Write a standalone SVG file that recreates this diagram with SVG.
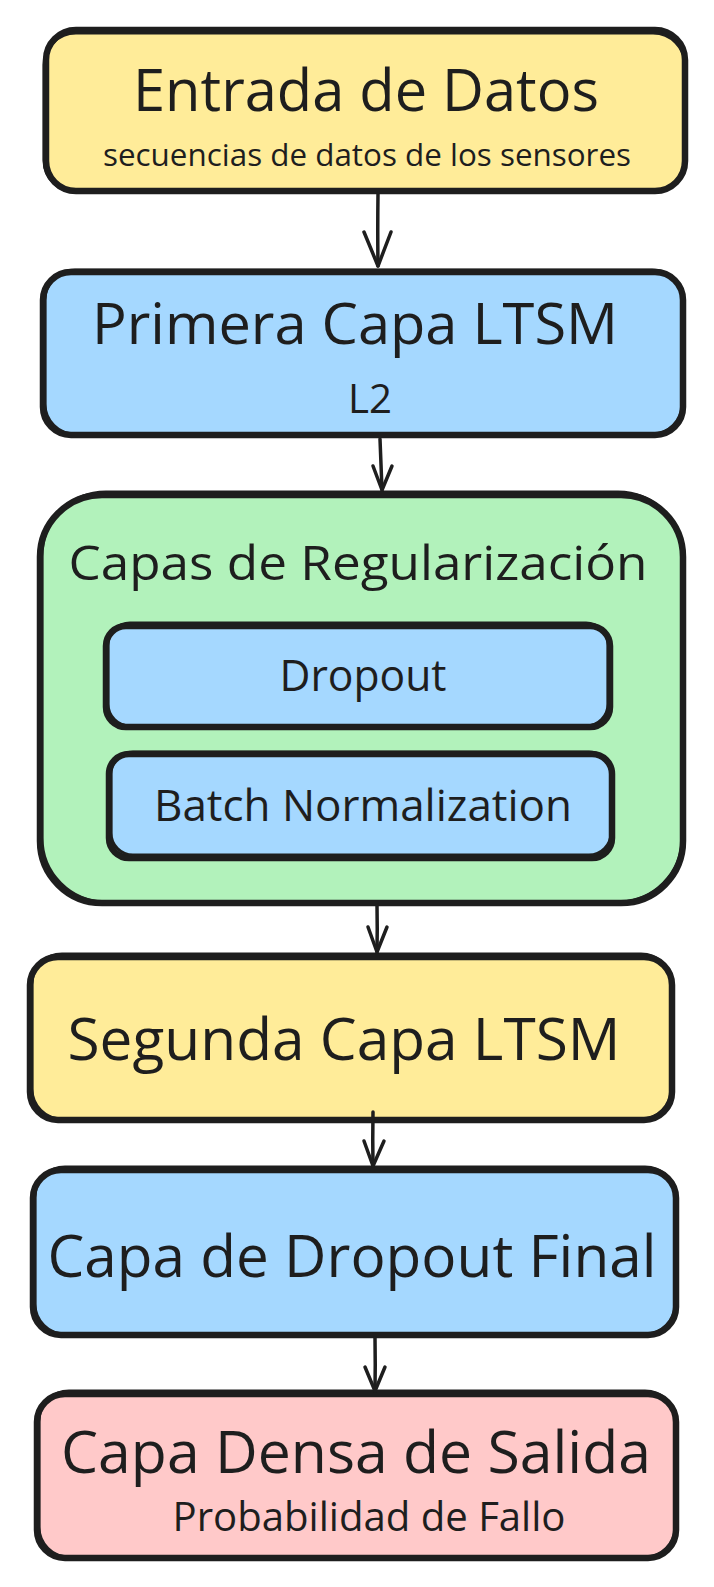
<svg xmlns="http://www.w3.org/2000/svg" width="714" height="1587" viewBox="0 0 714 1587">
<style>
.bg{fill:#ffffff}
.box{stroke:#1e1e1e;stroke-width:6.5;stroke-linejoin:round}
.sk{fill:none;stroke:#1e1e1e;stroke-width:3}
.yellow{fill:#ffec99}
.blue{fill:#a5d8ff}
.green{fill:#b2f2bb}
.red{fill:#ffc9c9}
text{font-family:"Open Sans","Noto Sans","Liberation Sans",sans-serif;fill:#1e1e1e;text-anchor:middle}
.conn path{fill:none;stroke:#1e1e1e;stroke-width:3.5;stroke-linecap:round;stroke-linejoin:round}
</style>
<rect class="bg" x="0" y="0" width="714" height="1587"/>

<g id="entrada">
<rect class="box yellow" x="46" y="30" width="639" height="161" rx="30"/>
<rect class="sk" x="44" y="33" width="641" height="159" rx="32"/>
<text x="366" y="111" font-size="58" textLength="466" lengthAdjust="spacingAndGlyphs">Entrada de Datos</text>
<text x="367" y="166" font-size="31" textLength="528" lengthAdjust="spacingAndGlyphs">secuencias de datos de los sensores</text>
</g>

<g id="primera">
<rect class="box blue" x="43" y="272" width="640" height="163" rx="28"/>
<rect class="sk" x="45" y="270" width="637" height="164" rx="30"/>
<text x="355" y="344" font-size="57.5" textLength="526" lengthAdjust="spacingAndGlyphs">Primera Capa LTSM</text>
<text x="370" y="413" font-size="41" textLength="44" lengthAdjust="spacingAndGlyphs">L2</text>
</g>

<g id="regularizacion">
<rect class="box green" x="40" y="495" width="643" height="408" rx="62"/>
<rect class="sk" x="42" y="492" width="640" height="410" rx="64"/>
<text x="358" y="580" font-size="48" textLength="579" lengthAdjust="spacingAndGlyphs">Capas de Regularización</text>
</g>

<g id="dropout">
<rect class="box blue" x="106" y="626" width="504" height="101" rx="20"/>
<rect class="sk" x="108" y="623" width="500" height="103" rx="22"/>
<text x="363" y="691" font-size="43" textLength="167" lengthAdjust="spacingAndGlyphs">Dropout</text>
</g>

<g id="batch">
<rect class="box blue" x="109" y="754" width="503" height="104" rx="20"/>
<rect class="sk" x="111" y="752" width="500" height="103" rx="22"/>
<text x="363" y="821" font-size="43.5" textLength="418" lengthAdjust="spacingAndGlyphs">Batch Normalization</text>
</g>

<g id="segunda">
<rect class="box yellow" x="30" y="957" width="642" height="163" rx="28"/>
<rect class="sk" x="32" y="954" width="639" height="165" rx="30"/>
<text x="344" y="1060" font-size="58" textLength="553" lengthAdjust="spacingAndGlyphs">Segunda Capa LTSM</text>
</g>

<g id="dropout-final">
<rect class="box blue" x="33" y="1170" width="643" height="165" rx="28"/>
<rect class="sk" x="35" y="1167" width="640" height="167" rx="30"/>
<text x="352" y="1277" font-size="58" textLength="609" lengthAdjust="spacingAndGlyphs">Capa de Dropout Final</text>
</g>

<g id="densa">
<rect class="box red" x="37" y="1394" width="639" height="164" rx="28"/>
<rect class="sk" x="39" y="1391" width="636" height="166" rx="30"/>
<text x="356" y="1473" font-size="58.5" textLength="590" lengthAdjust="spacingAndGlyphs">Capa Densa de Salida</text>
<text x="369" y="1531" font-size="40" textLength="393" lengthAdjust="spacingAndGlyphs">Probabilidad de Fallo</text>
</g>

<g class="conn" id="connectors">
<path d="M378 194 Q377.5 230 378 266"/>
<path d="M364 232 L378 266 L391 232"/>
<path d="M380 439 Q381 465 382 490"/>
<path d="M373 466 L382 490 L392 466"/>
<path d="M377 905 Q377.5 930 377 952"/>
<path d="M368 927 L377 952 L387 927"/>
<path d="M373 1112 Q372.5 1140 373 1166"/>
<path d="M364 1141 L373 1166 L384 1141"/>
<path d="M375 1338 Q375.5 1365 375 1391"/>
<path d="M365 1367 L375 1391 L385 1367"/>
</g>
</svg>
